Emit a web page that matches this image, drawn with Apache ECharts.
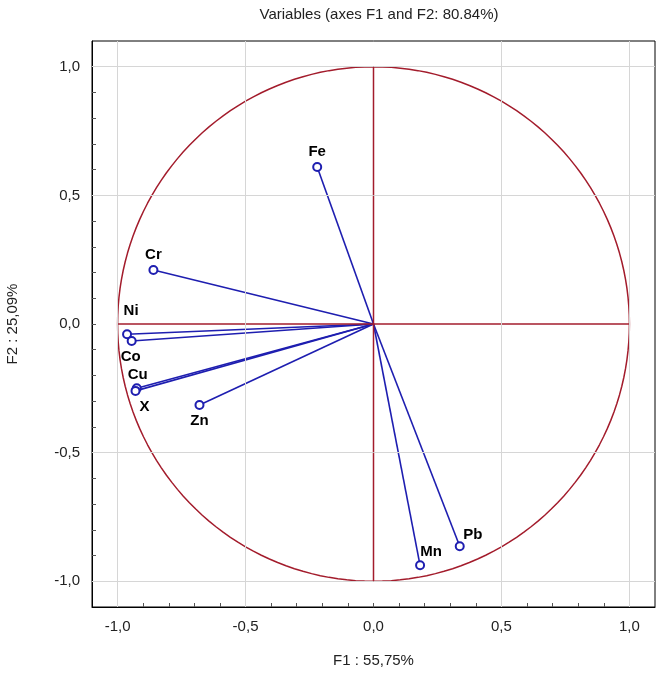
<!DOCTYPE html>
<html>
<head>
<meta charset="utf-8">
<script src="https://cdn.jsdelivr.net/npm/echarts@6/dist/echarts.min.js"></script>
<style>
  html, body { margin: 0; padding: 0; background: #fff; }
  #main { width: 664px; height: 673px; }
</style>
</head>
<body>
<div id="main"></div>
<script>
// variables and their loadings on F1 / F2
let var_names = ['Fe', 'Cr', 'Ni', 'Co', 'Cu', 'X', 'Zn', 'Mn', 'Pb'];
let f1_values = [-0.22, -0.86, -0.963, -0.945, -0.925, -0.93, -0.68, 0.182, 0.337];
let f2_values = [0.61, 0.21, -0.04, -0.066, -0.25, -0.26, -0.315, -0.938, -0.864];
let label_pos = ['top', 'top', 'top', 'bottom', 'top', 'bottom', 'bottom', 'top', 'top'];
let grid_ticks = [-1.0, -0.5, 0.5, 1.0];

let mainchart = echarts.init(document.getElementById('main'));

const dark_red = '#a31c2c';
const blue = '#1e1eb0';

function fmt(v){
    let r = Math.round(v * 10);
    if (r % 5 !== 0) return '';
    return (r / 10).toFixed(1).replace('.', ',');
}

// unit circle
let circle_pts = [];
for (let a = 0; a <= 360; a += 2){
    circle_pts.push([Math.cos(a * Math.PI / 180), Math.sin(a * Math.PI / 180)]);
}

let vec_lines = [];
let points = [];
for (let t = 0; t < var_names.length; t++){
    vec_lines.push({coords: [[0, 0], [f1_values[t], f2_values[t]]]});
    let lbl = {show: true, position: label_pos[t], distance: 3};
    if (var_names[t] === 'X') lbl.offset = [9, 0];
    if (var_names[t] === 'Cu') lbl.offset = [1, 2];
    if (var_names[t] === 'Pb') lbl.offset = [13, 4];
    if (var_names[t] === 'Mn') lbl.offset = [11, 2];
    if (var_names[t] === 'Ni') lbl.offset = [4, -8];
    if (var_names[t] === 'Co') lbl.offset = [-1, 0];
    points.push({name: var_names[t], value: [f1_values[t], f2_values[t]], label: lbl});
}

let gridlines = [];
grid_ticks.forEach(function(v){
    gridlines.push([{coord: [v, -1.1]}, {coord: [v, 1.1]}]);
    gridlines.push([{coord: [-1.1, v]}, {coord: [1.1, v]}]);
});

let axis_common = {
    type: 'value',
    min: -1.1,
    max: 1.1,
    interval: 0.1,
    axisLine: {show: true, onZero: false, lineStyle: {color: '#000', width: 1}},
    axisTick: {show: true, inside: true, length: 4, lineStyle: {color: '#555'}},
    splitLine: {show: false},
    axisLabel: {
        formatter: fmt,
        color: '#222',
        fontSize: 15,
        fontFamily: 'Liberation Sans',
        showMinLabel: false,
        showMaxLabel: false,
        margin: 12
    },
    nameLocation: 'middle',
    nameTextStyle: {color: '#222', fontSize: 15, fontFamily: 'Liberation Sans'}
};

let chart_config = {
    animation: false,
    title: {
        text: 'Variables (axes F1 and F2: 80.84%)',
        left: 374,
        textAlign: 'center',
        top: 2,
        textStyle: {fontSize: 15, fontWeight: 'normal', color: '#222', fontFamily: 'Liberation Sans'}
    },
    grid: {
        left: 92, right: 9, top: 41, bottom: 66,
        outerBoundsMode: 'none',
        containLabel: false,
        show: true, borderColor: '#000', borderWidth: 1, backgroundColor: '#fff'
    },
    xAxis: Object.assign({}, axis_common, {name: 'F1 : 55,75%', nameGap: 46}),
    yAxis: Object.assign({}, axis_common, {name: 'F2 : 25,09%', nameGap: 72}),
    series: [
        {
            type: 'line',
            data: [],
            silent: true,
            markLine: {
                symbol: 'none',
                silent: true,
                label: {show: false},
                lineStyle: {color: '#d6d6d6', type: 'solid', width: 1},
                data: gridlines
            }
        },
        {
            type: 'line',
            data: circle_pts,
            showSymbol: false,
            silent: true,
            lineStyle: {color: dark_red, width: 1.5}
        },
        {
            type: 'line',
            data: [[-1, 0], [1, 0]],
            showSymbol: false,
            silent: true,
            lineStyle: {color: dark_red, width: 1.5}
        },
        {
            type: 'line',
            data: [[0, -1], [0, 1]],
            showSymbol: false,
            silent: true,
            lineStyle: {color: dark_red, width: 1.5}
        },
        {
            type: 'lines',
            coordinateSystem: 'cartesian2d',
            data: vec_lines,
            lineStyle: {color: blue, width: 1.6, opacity: 1}
        },
        {
            type: 'scatter',
            data: points,
            symbol: 'emptyCircle',
            symbolSize: 8,
            itemStyle: {color: blue, borderWidth: 1.6, opacity: 1},
            label: {
                show: true,
                formatter: '{b}',
                color: '#000',
                fontSize: 15,
                fontWeight: 'bold',
                fontFamily: 'Liberation Sans'
            }
        }
    ]
};
mainchart.setOption(chart_config);
</script>
</body>
</html>
